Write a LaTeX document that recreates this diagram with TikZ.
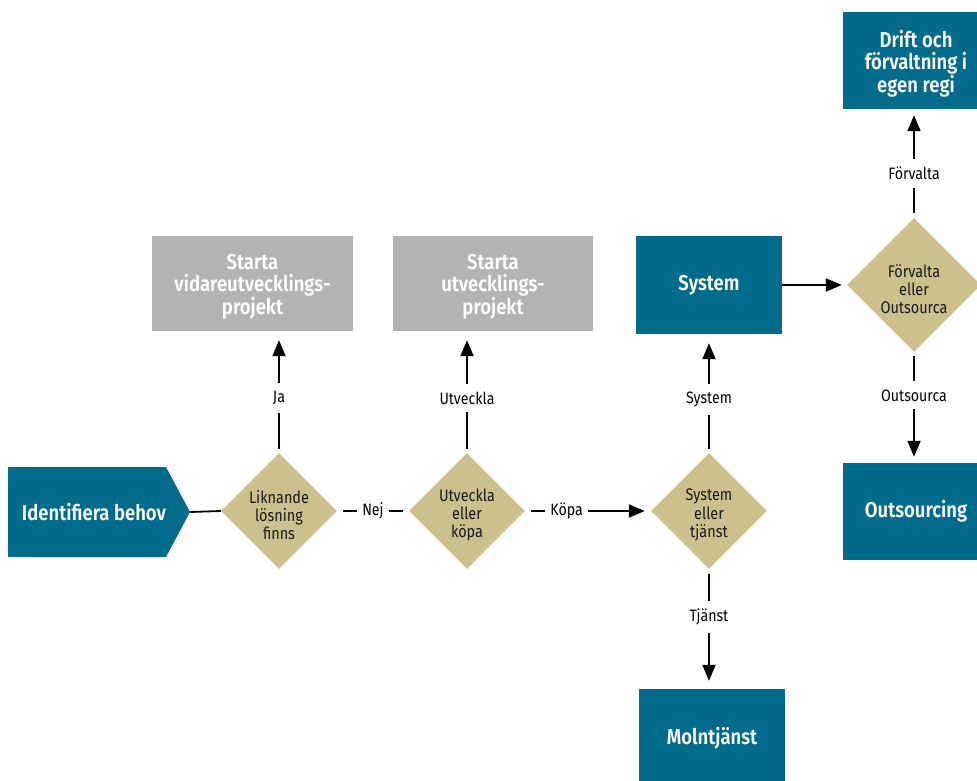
\documentclass[tikz,border=0pt]{standalone}
\usepackage{fontspec}
\setmainfont{Fira Sans}[FakeStretch=0.86, BoldFont={Fira Sans SemiBold}]
\usetikzlibrary{shapes.geometric,arrows.meta}
\definecolor{boxteal}{HTML}{006B8A}
\definecolor{decisiontan}{HTML}{CCC18D}
\definecolor{pendinggrey}{HTML}{B3B3B3}
\begin{document}
\begin{tikzpicture}[x=1pt,y=-1pt,
  boxtext/.style={text=white, inner sep=0, align=center,
    font=\bfseries\fontsize{21.5}{22.5}\selectfont},
  bluebox/.style={rectangle, fill=boxteal, boxtext},
  greybox/.style={rectangle, fill=pendinggrey, inner sep=0, minimum height=95},
  decision/.style={diamond, fill=decisiontan, inner sep=0},
  decisiontext/.style={inner sep=0, align=center, text=black!90,
    font=\fontsize{16.8}{18.3}\selectfont},
  lbl/.style={fill=white, inner xsep=5, inner ysep=8, text=black,
    font=\fontsize{16.5}{18}\selectfont},
  flow/.style={line width=1.8pt},
  arr/.style={flow, -{Triangle[length=16pt,width=13pt]}},
]
\useasboundingbox (0,0) rectangle (977,780);

% start step: pentagon pointing right
\fill[boxteal] (8,467) -- (166,467) -- (190,512) -- (166,557) -- (8,557) -- cycle;
\coordinate (idbtip) at (190,512);
\node[boxtext] (idb) at (94,512) {Identifiera behov};

% decisions (shape first, then its text set slightly below the centre)
\node[decision, minimum width=116, minimum height=116] (d1) at (279,511) {};
\node[decision, minimum width=116, minimum height=116] (d2) at (467,511) {};
\node[decision, minimum width=116, minimum height=116] (d3) at (709,511) {};
\node[decision, minimum width=134, minimum height=134] (d4) at (914,285) {};
\node[decisiontext] (d1t) at ([yshift=-4pt]d1.center) {Liknande\\lösning\\finns};
\node[decisiontext] (d2t) at ([yshift=-4pt]d2.center) {Utveckla\\eller\\köpa};
\node[decisiontext] (d3t) at ([yshift=-4pt]d3.center) {System\\eller\\tjänst};
\node[decisiontext] (d4t) at ([yshift=-4pt]d4.center) {Förvalta\\eller\\Outsourca};

% outcomes
\node[greybox, minimum width=201] (g1) at (252.5,283.5) {};
\node[greybox, minimum width=200] (g2) at (493,283.5) {};
\node[boxtext] (g1t) at ([yshift=-3pt]g1.center) {Starta\\vidareutvecklings-\\projekt};
\node[boxtext] (g2t) at ([yshift=-3pt]g2.center) {Starta\\utvecklings-\\projekt};
\node[bluebox, minimum width=146, minimum height=98] (sys) at (709,285) {System};
\node[bluebox, minimum width=146, minimum height=98] (moln) at (712,738) {Molntjänst};
\node[bluebox, minimum width=146, minimum height=97] (drift) at (916,60.5) {};
\node[boxtext] (driftt) at ([yshift=-3pt]drift.center) {Drift och\\förvaltning i\\egen regi};
\node[bluebox, minimum width=146, minimum height=97] (outs) at (916,511.5) {Outsourcing};

% connectors
\draw[flow] (idbtip) -- (d1.west);
\draw[flow, shorten <=6pt, shorten >=6pt] (d1.east) -- node[lbl] {Nej} (d2.west);
\draw[arr, shorten <=6pt, shorten >=6pt] (d2.east) -- node[lbl, pos=0.33] {Köpa} (d3.west);
\draw[arr, shorten <=4pt, shorten >=9pt] (d1.north) -- node[lbl, pos=0.45] {Ja} (d1.north |- g1.south);
\draw[arr, shorten <=4pt, shorten >=9pt] (d2.north) -- node[lbl, pos=0.45] {Utveckla} (d2.north |- g2.south);
\draw[arr, shorten <=4pt, shorten >=9pt] (d3.north) -- node[lbl, pos=0.45] {System} (sys.south);
\draw[arr, shorten <=5pt, shorten >=8pt] (d3.south) -- node[lbl, pos=0.40] {Tjänst} (d3.south |- moln.north);
\draw[arr, shorten >=5pt] (sys.east) -- (d4.west);
\draw[arr, shorten <=5pt, shorten >=6pt] (d4.north) -- node[lbl, pos=0.41] {Förvalta} (d4.north |- drift.south);
\draw[arr, shorten <=4pt, shorten >=6pt] (d4.south) -- node[lbl, pos=0.39] {Outsourca} (d4.south |- outs.north);
\end{tikzpicture}
\end{document}
